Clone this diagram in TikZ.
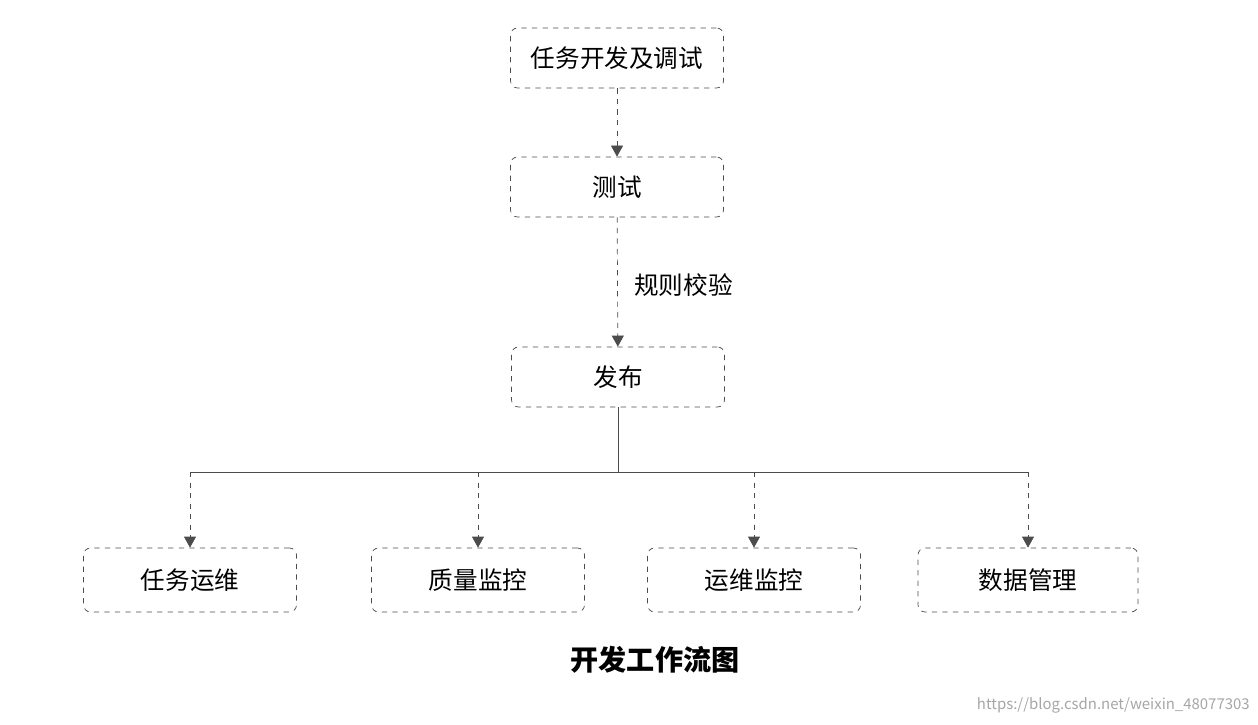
\documentclass[tikz,border=0pt]{standalone}
\usepackage{fontspec}
\setmainfont{Noto Sans CJK SC}
\usetikzlibrary{positioning, arrows.meta}

\begin{document}
\begin{tikzpicture}[
            flow_block/.style={rectangle, draw=black!70, dashed, rounded corners=4pt, minimum width=4.26cm, minimum height=1.2cm, font=\fontsize{14}{16}\selectfont},
            leaf_block/.style={flow_block, minimum height=1.28cm},
            arrow/.style={draw=black!70, dashed, -{Triangle[length=2.2mm, width=2.4mm]}},
            line/.style={draw=black!70}
        ]
            \useasboundingbox (0,0) rectangle (25.16,14.48);

            % --- Main column ---
            \node[flow_block] (dev) at (12.34,13.32) {任务开发及调试};
            \node[flow_block] (test) at (12.34,10.74) {测试};
            \node[flow_block] (release) at (12.36,6.94) {发布};

            \draw[arrow] (dev) -- (test);
            \draw[arrow] (test) -- node[right=6pt, font=\fontsize{14}{16}\selectfont, yshift=-2pt] {规则校验} (release);

            % --- Bottom row ---
            \node[leaf_block] (ops) at (3.8,2.88) {任务运维};
            \node[leaf_block] (quality) at (9.56,2.88) {质量监控};
            \node[leaf_block] (monitor) at (15.08,2.88) {运维监控};
            \node[leaf_block, minimum width=4.4cm] (data) at (20.56,2.88) {数据管理};

            % --- Branches ---
            \coordinate (split) at (12.36,5.04);
            \draw[line] (release) -- (split);
            \draw[line] (ops.north |- split) -- (data.north |- split);
            \foreach \target in {ops, quality, monitor, data}
                \draw[arrow] (\target.north |- split) -- (\target.north);

            % --- Caption ---
            \node[font=\bfseries\fontsize{16}{18}\selectfont] (caption) at (13.1,1.28) {开发工作流图};
            \node[font=\fontsize{8.5}{10}\selectfont, text=black!35, anchor=east, inner sep=0pt] (mark) at (25.0,0.38) {https://blog.csdn.net/weixin\_48077303};
        \end{tikzpicture}
\end{document}
